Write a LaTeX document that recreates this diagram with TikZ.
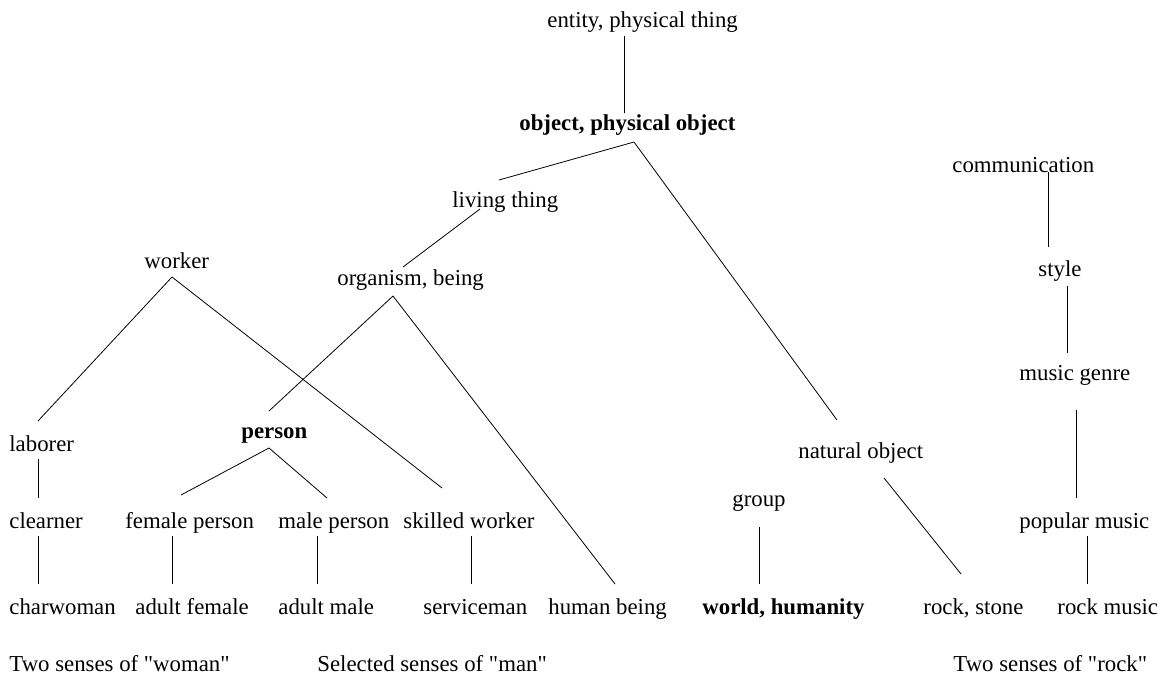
\documentclass[tikz,border=0pt]{standalone}
\usepackage{fontspec}
\setmainfont{Liberation Serif}[Ligatures=TeXOff]
\tikzset{sense/.style={anchor=base west, inner sep=0pt, font=\fontsize{22.8}{27}\selectfont}, key/.style={sense, font=\fontsize{22.8}{27}\selectfont\bfseries}}
\begin{document}
\begin{tikzpicture}[x=1pt, y=-1pt, line width=0.8pt]
\useasboundingbox (0,0) rectangle (1161,675);
% senses, placed at their baselines
\node[sense] (entity) at (547,27) {entity, physical thing};\node[key] (object) at (519,130) {object, physical object};
\node[sense] (living) at (452,207) {living thing};\node[sense] (organism) at (337,285) {organism, being};\node[sense] (natural) at (798,458) {natural object};
\node[sense] (worker) at (144,268) {worker};\node[sense] (laborer) at (9,451) {laborer};\node[key] (person) at (241,438) {person};
\node[sense] (cleaner) at (9,528) {clearner};\node[sense] (female) at (125,528) {female person};\node[sense] (male) at (278,528) {male person};\node[sense] (skilled) at (403,528) {skilled worker};
\node[sense] (charwoman) at (9,614) {charwoman};\node[sense] (adultf) at (135,614) {adult female};\node[sense] (adultm) at (278,614) {adult male};\node[sense] (serviceman) at (423,614) {serviceman};\node[sense] (human) at (548,614) {human being};
\node[sense] (group) at (732,506) {group};\node[key] (world) at (702,614) {world, humanity};\node[sense] (stone) at (923,614) {rock, stone};
\node[sense] (comm) at (952,172) {communication};\node[sense] (sty) at (1038,276) {style};\node[sense] (genre) at (1019,380) {music genre};\node[sense] (popular) at (1019,528) {popular music};\node[sense] (rockmusic) at (1057,614) {rock music};
\node[sense] (capwoman) at (9,671) {Two senses of "woman"};\node[sense] (capman) at (317,671) {Selected senses of "man"};\node[sense] (caprock) at (953,671) {Two senses of "rock"};
% hypernym links
\draw ([shift={(77,9)}]entity.base west) -- ([shift={(105,-17)}]object.base west);\draw ([shift={(115,12)}]object.base west) -- ([shift={(47,-27)}]living.base west);\draw ([shift={(115,12)}]object.base west) -- ([shift={(39,-38)}]natural.base west);
\draw ([shift={(28,2)}]living.base west) -- ([shift={(66,-18)}]organism.base west);\draw ([shift={(56,11)}]organism.base west) -- ([shift={(28,-27)}]person.base west);\draw ([shift={(56,11)}]organism.base west) -- ([shift={(67,-30)}]human.base west);
\draw ([shift={(28,9)}]worker.base west) -- ([shift={(29,-30)}]laborer.base west);\draw ([shift={(28,9)}]worker.base west) -- ([shift={(39,-40)}]skilled.base west);
\draw ([shift={(28,10)}]person.base west) -- ([shift={(56,-33)}]female.base west);\draw ([shift={(28,10)}]person.base west) -- ([shift={(49,-30)}]male.base west);
\draw ([shift={(29,8)}]laborer.base west) -- ([shift={(29,-30)}]cleaner.base west);\draw ([shift={(29,8)}]cleaner.base west) -- ([shift={(29,-30)}]charwoman.base west);
\draw ([shift={(47,8)}]female.base west) -- ([shift={(37,-30)}]adultf.base west);\draw ([shift={(39,8)}]male.base west) -- ([shift={(39,-30)}]adultm.base west);\draw ([shift={(68,8)}]skilled.base west) -- ([shift={(48,-30)}]serviceman.base west);
\draw ([shift={(27,21)}]group.base west) -- ([shift={(57,-30)}]world.base west);\draw ([shift={(86,20)}]natural.base west) -- ([shift={(38,-40)}]stone.base west);
\draw ([shift={(96,0)}]comm.base west) -- ([shift={(10,-29)}]sty.base west);\draw ([shift={(29,10)}]sty.base west) -- ([shift={(48,-27)}]genre.base west);
\draw ([shift={(57,30)}]genre.base west) -- ([shift={(57,-30)}]popular.base west);\draw ([shift={(68,8)}]popular.base west) -- ([shift={(30,-30)}]rockmusic.base west);
\end{tikzpicture}
\end{document}
